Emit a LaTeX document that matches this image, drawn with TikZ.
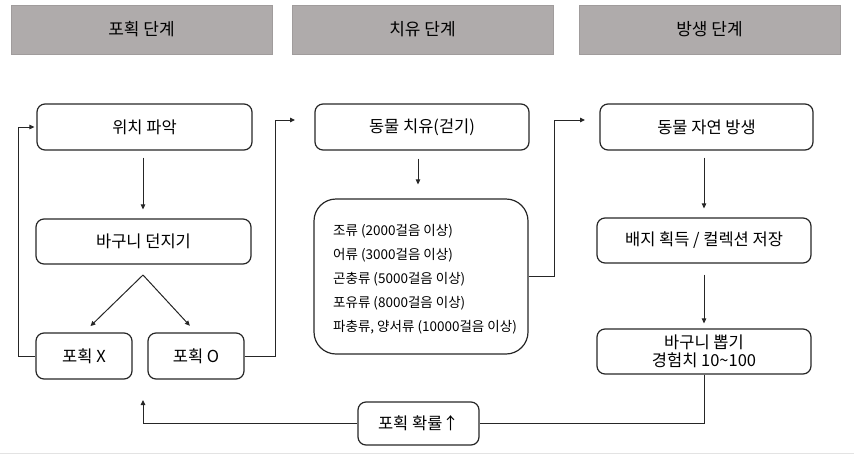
\documentclass[tikz,border=0pt]{standalone}
\usepackage{fontspec}
\setmainfont{Noto Sans CJK KR}
\usetikzlibrary{arrows.meta,calc}
\definecolor{hdrfill}{HTML}{AFABAB}
\definecolor{hdrline}{HTML}{A09C9C}
\definecolor{boxline}{HTML}{262626}
\definecolor{edgegray}{HTML}{E3E3E3}
\tikzset{
  hdr/.style={fill=hdrfill,draw=hdrline,line width=0.8pt,minimum width=261pt,minimum height=49pt,inner sep=0pt,font=\fontsize{17}{20}\selectfont},
  stepbox/.style={draw=boxline,line width=1.2pt,rounded corners=8pt,minimum height=46pt,inner sep=0pt,font=\fontsize{16.5}{19.5}\selectfont},
  conn/.style={draw=boxline,line width=1pt},
  arr/.style={conn,-{Triangle[length=5pt,width=4.5pt]}},
}
\begin{document}
\begin{tikzpicture}[x=1pt,y=-1pt]
\useasboundingbox (0,0) rectangle (854,458);
\draw[edgegray,line width=1pt] (0,453) -- (854,453);
% headers
\node[hdr] (h1) at (141.5,29.5) {포획 단계};
\node[hdr] (h2) at (422.5,29.5) {치유 단계};
\node[hdr] (h3) at (709.5,29.5) {방생 단계};
% capture column
\node[stepbox,minimum width=215pt] (a) at (144.5,127) {위치 파악};
\node[stepbox,minimum width=215pt,minimum height=45pt] (b) at (143.5,241.5) {바구니 던지기};
\node[stepbox,minimum width=96pt] (px) at (84,356) {포획 X};
\node[stepbox,minimum width=96pt] (po) at (196,356) {포획 O};
% healing column
\node[stepbox,minimum width=214pt] (dh) at (422,127) {동물 치유(걷기)};
\node[draw=boxline,line width=1.2pt,rounded corners=22pt,minimum width=214pt,minimum height=155pt,inner sep=0pt] (list) at (421,276.5) {};
\node[anchor=west,inner sep=0pt,font=\fontsize{13.5}{16}\selectfont,align=left] (lt) at (333,279)
 {조류 (2000걸음 이상)\\[8pt]어류 (3000걸음 이상)\\[8pt]곤충류 (5000걸음 이상)\\[8pt]포유류 (8000걸음 이상)\\[8pt]파충류, 양서류 (10000걸음 이상)};
% release column
\node[stepbox,minimum width=213pt] (dn) at (706.5,127) {동물 자연 방생};
\node[stepbox,minimum width=214pt,minimum height=45pt] (bj) at (704,240.5) {배지 획득 / 컬렉션 저장};
\node[stepbox,minimum width=214pt,minimum height=45pt,align=center,font=\fontsize{16.5}{18.5}\selectfont] (bp) at (704,351.5) {바구니 뽑기\\경험치 10\textasciitilde100};
\node[stepbox,minimum width=121pt,minimum height=43pt] (pr) at (418.5,423.5) {포획 확률↑};
% named free ends
\coordinate (fork) at (143,275);
\coordinate (in2) at (295,120);
\coordinate (in3) at (585,120);
\coordinate (ret) at (143,400);
% connectors
\draw[arr,shorten <=7pt,shorten >=9pt] (a.south -| fork) -- (b.north -| fork);
\draw[arr,shorten >=9pt] (fork) -- (px.north);
\draw[arr,shorten >=9pt] (fork) -- (po.north);
\draw[arr,shorten >=2pt] (px.west) -- ++(-17,0) |- (a.west);
\draw[arr] (po.east) -- ++(31,0) |- (in2);
\draw[arr,shorten <=8pt,shorten >=14pt] (dh.south -| 418,0) -- (list.north -| 418,0);
\draw[arr] (list.east) -- ++(26,0) |- (in3);
\draw[arr,shorten <=7pt,shorten >=9pt] (dn.south -| bj.north) -- (bj.north);
\draw[arr,shorten <=11pt,shorten >=5pt] (bj.south) -- (bp.north);
\draw[conn] (bp.south) |- (pr.east);
\draw[arr] (pr.west) -| (ret);
\end{tikzpicture}
\end{document}
